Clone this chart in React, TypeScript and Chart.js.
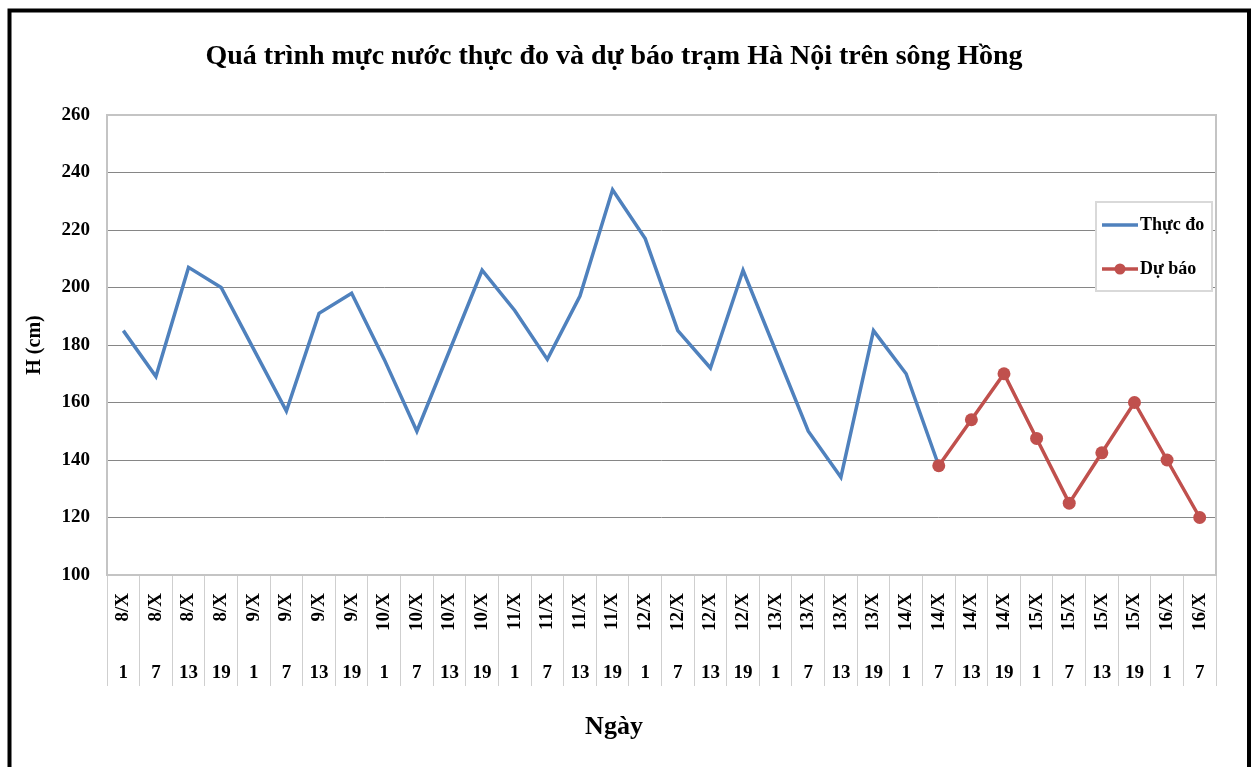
import React, { useEffect, useRef } from 'react';
import { Chart, registerables } from 'chart.js';

Chart.register(...registerables);

const FONT = "'Liberation Serif', 'Times New Roman', serif";

const chartTitle = 'Quá trình mực nước thực đo và dự báo trạm Hà Nội trên sông Hồng';
const xTitle = 'Ngày';
const yTitle = 'H (cm)';

const dates = [
  '8/X', '8/X', '8/X', '8/X',
  '9/X', '9/X', '9/X', '9/X',
  '10/X', '10/X', '10/X', '10/X',
  '11/X', '11/X', '11/X', '11/X',
  '12/X', '12/X', '12/X', '12/X',
  '13/X', '13/X', '13/X', '13/X',
  '14/X', '14/X', '14/X', '14/X',
  '15/X', '15/X', '15/X', '15/X',
  '16/X', '16/X',
];

const hours = [
  '1', '7', '13', '19',
  '1', '7', '13', '19',
  '1', '7', '13', '19',
  '1', '7', '13', '19',
  '1', '7', '13', '19',
  '1', '7', '13', '19',
  '1', '7', '13', '19',
  '1', '7', '13', '19',
  '1', '7',
];

// Thực đo: 8/X 1h -> 14/X 7h
const observed = [
  185, 169, 207, 200,
  178.5, 157, 191, 198,
  175, 150, 178, 206,
  192, 175, 197, 234,
  217, 185, 172, 206,
  178, 150, 134, 185,
  170, 138,
];

// Dự báo: 14/X 7h -> 16/X 7h
const forecast = [138, 154, 170, 147.5, 125, 142.5, 160, 140, 120];
const forecastStartIndex = 25;

const seriesNames = ['Thực đo', 'Dự báo'];
const BLUE = '#4F81BD';
const RED = '#C0504D';

const yMin = 100;
const yMax = 260;
const yStep = 20;

const decorPlugin = {
  id: 'decor',
  beforeDatasetsDraw(chart: any) {
    const { ctx, chartArea: a } = chart;
    ctx.save();
    ctx.strokeStyle = '#c4c4c4';
    ctx.lineWidth = 2;
    ctx.strokeRect(a.left, a.top, a.right - a.left, a.bottom - a.top);
    ctx.restore();
  },
  afterDraw(chart: any) {
    const { ctx, chartArea: a } = chart;
    const ds = chart.data.datasets;
    ctx.save();
    // legend box
    const x0 = a.right - 120;
    const y0 = a.top + 87;
    const w = 116;
    const h = 89;
    ctx.fillStyle = '#ffffff';
    ctx.fillRect(x0, y0, w, h);
    ctx.strokeStyle = '#d9d9d9';
    ctx.lineWidth = 2;
    ctx.strokeRect(x0, y0, w, h);
    const rows = [y0 + 23, y0 + 67];
    ds.forEach((d: any, i: number) => {
      const yy = rows[i];
      ctx.strokeStyle = d.borderColor;
      ctx.lineWidth = 3.5;
      ctx.beginPath();
      ctx.moveTo(x0 + 6, yy);
      ctx.lineTo(x0 + 42, yy);
      ctx.stroke();
      if (d.pointRadius > 0) {
        ctx.fillStyle = d.pointBackgroundColor;
        ctx.beginPath();
        ctx.arc(x0 + 24, yy, 5.5, 0, Math.PI * 2);
        ctx.fill();
      }
      ctx.fillStyle = '#000';
      ctx.font = `bold 18px ${FONT}`;
      ctx.textAlign = 'left';
      ctx.textBaseline = 'middle';
      ctx.fillText(d.label, x0 + 44, yy);
    });
    // outer black frame
    ctx.strokeStyle = '#000';
    ctx.lineWidth = 4;
    ctx.strokeRect(9.5, 10.5, 1239.5, 800);
    ctx.restore();
  },
};

export default function App() {
  const ref = useRef<HTMLCanvasElement | null>(null);

  useEffect(() => {
    if (!ref.current) return;
    const forecastData: (number | null)[] = dates.map(() => null);
    forecast.forEach((v, i) => {
      forecastData[forecastStartIndex + i] = v;
    });

    const tickFont = { family: FONT, size: 19, weight: 'bold' as const };

    const chart = new Chart(ref.current, {
      type: 'line',
      data: {
        labels: dates,
        datasets: [
          {
            label: seriesNames[0],
            data: observed,
            borderColor: BLUE,
            backgroundColor: BLUE,
            borderWidth: 3.5,
            pointRadius: 0,
            pointHoverRadius: 0,
            tension: 0,
            order: 2,
          },
          {
            label: seriesNames[1],
            data: forecastData,
            borderColor: RED,
            backgroundColor: RED,
            pointBackgroundColor: RED,
            pointBorderColor: RED,
            pointBorderWidth: 0,
            borderWidth: 3.5,
            pointRadius: 6.5,
            pointHoverRadius: 6.5,
            tension: 0,
            order: 1,
          },
        ],
      },
      plugins: [decorPlugin],
      options: {
        responsive: false,
        animation: false,
        devicePixelRatio: 1,
        layout: { padding: { left: 12, right: 38, top: 12, bottom: 0 } },
        plugins: {
          legend: { display: false },
          tooltip: { enabled: false },
          title: {
            display: true,
            text: chartTitle,
            color: '#000',
            font: { family: FONT, size: 28, weight: 'bold' },
            padding: { top: 28.2, bottom: 41.2 },
          },
          subtitle: {
            display: true,
            position: 'bottom',
            text: xTitle,
            color: '#000',
            font: { family: FONT, size: 26, weight: 'bold' },
            padding: { top: 25.4, bottom: 24.4 },
          },
        },
        scales: {
          x: {
            type: 'category',
            labels: dates,
            position: 'bottom',
            weight: 0,
            offset: true,
            grid: {
              display: true,
              offset: true,
              drawOnChartArea: false,
              drawTicks: true,
              tickLength: 111,
              color: '#cfcfcf',
              lineWidth: 1,
            },
            border: { display: false },
            ticks: {
              autoSkip: false,
              minRotation: 90,
              maxRotation: 90,
              padding: -93,
              color: '#000',
              font: tickFont,
            },
            afterFit: (s: any) => {
              s.height = 60;
            },
          },
          x2: {
            type: 'category',
            labels: hours,
            position: 'bottom',
            weight: 1,
            offset: true,
            grid: { display: false },
            border: { display: false },
            ticks: {
              autoSkip: false,
              minRotation: 0,
              maxRotation: 0,
              padding: 19.1,
              color: '#000',
              font: tickFont,
            },
            afterFit: (s: any) => {
              s.height = 51;
            },
          },
          y: {
            min: yMin,
            max: yMax,
            ticks: {
              stepSize: yStep,
              padding: 17,
              color: '#000',
              font: tickFont,
            },
            grid: { drawTicks: false, color: '#868686', lineWidth: 1 },
            border: { display: false },
            title: {
              display: true,
              text: yTitle,
              color: '#000',
              font: { family: FONT, size: 20, weight: 'bold' },
              padding: { top: 11, bottom: 0 },
            },
            afterFit: (s: any) => {
              s.width = 95;
            },
          },
        },
      } as any,
    });
    return () => chart.destroy();
  }, []);

  return (
    <div style={{ position: 'fixed', left: 0, top: 0, width: 1254, height: 767, background: '#fff' }}>
      <canvas ref={ref} width={1254} height={767} />
    </div>
  );
}
